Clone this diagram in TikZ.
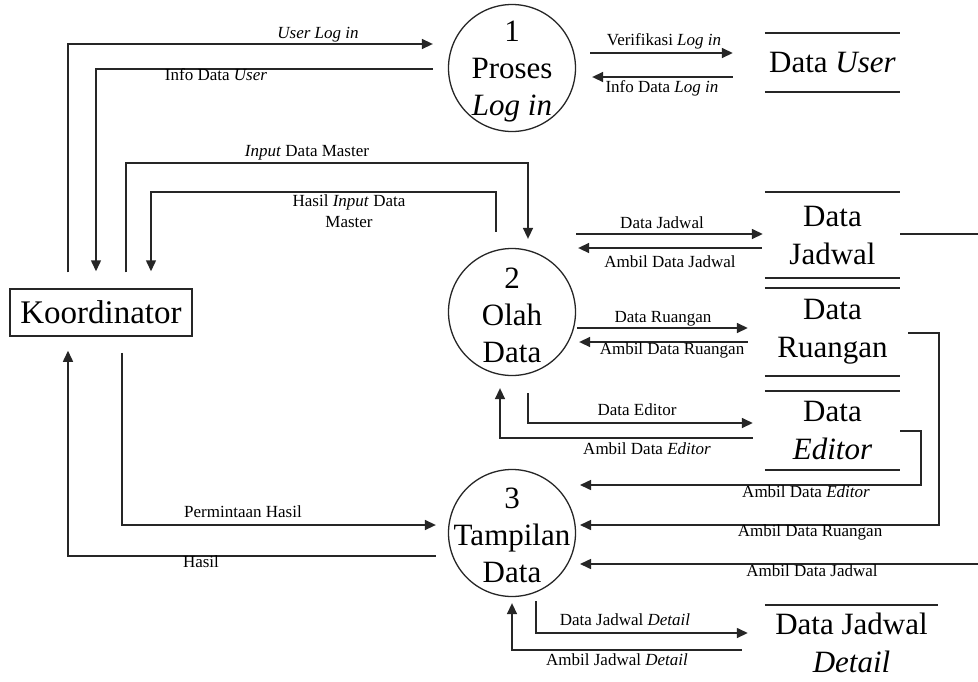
\documentclass[tikz,border=0pt]{standalone}
\usepackage{fontspec}
\setmainfont{Liberation Serif}
\usetikzlibrary{arrows.meta}
\begin{document}
\begin{tikzpicture}[x=1pt,y=-1pt,
  flow/.style={draw=black!85, line width=1.5pt, -{Triangle[length=11pt,width=10pt]}},
  plain/.style={draw=black!85, line width=1.5pt},
  lbl/.style={font=\fontsize{17}{21}\selectfont, inner sep=0pt, text height=0.72em, text depth=0.22em},
  lbltwo/.style={font=\fontsize{17}{21}\selectfont, inner sep=0pt, align=center},
  proc/.style={circle, draw=black!85, line width=1.3pt, minimum size=127pt, inner sep=0pt},
  proctext/.style={font=\fontsize{31}{37}\selectfont, align=center, inner sep=0pt},
  store/.style={minimum width=135pt, inner sep=0pt, font=\fontsize{31}{38}\selectfont, align=center},
  storeline/.style={draw=black!85, line width=1.5pt},
  entity/.style={draw=black!85, line width=1.5pt, minimum width=182pt, minimum height=47pt,
    inner sep=0pt, font=\fontsize{33}{40}\selectfont}
]
\fill[white] (0,0) rectangle (978,681);
\useasboundingbox (0,0) rectangle (978,681);

% external entity
\node[entity] (koord) at (101,312.5) {Koordinator};

% processes
\node[proc] (p1) at (512,68) {};
\node[proctext] (p1t) at (512,72) {1\\Proses\\\textit{Log in}};
\node[proc] (p2) at (512,312) {};
\node[proctext] (p2t) at (512,315) {2\\Olah\\Data};
\node[proc] (p3) at (512,533) {};
\node[proctext] (p3t) at (512,535) {3\\Tampilan\\Data};

% data stores
\node[store, minimum height=59pt] (du) at (832.5,62.5) {Data \textit{User}};
\node[store, minimum height=86pt] (dj) at (832.5,235) {Data\\Jadwal};
\node[store, minimum height=88pt] (dr) at (832.5,332) {Data\\Ruangan};
\node[store, minimum height=79pt] (de) at (832.5,430.5) {Data\\\textit{Editor}};
\node[store, minimum width=173pt, minimum height=76pt] (djd) at (851.5,643) {Data Jadwal\\\textit{Detail}};
\foreach \s in {du,dj,dr,de} {
  \draw[storeline] (\s.north west) -- (\s.north east);
  \draw[storeline] (\s.south west) -- (\s.south east);
}
\draw[storeline] (djd.north west) -- (djd.north east);

% helper columns for the inflows of process 3 and the right rim
\coordinate (intake) at (580,0);
\coordinate (rim) at (978,0);

% Koordinator <-> Proses Log in
\draw[flow, shorten <=16pt, shorten >=15pt] (koord.north -| 68,0) |- (p1.west |- 0,44);
\draw[flow, shorten <=15pt, shorten >=17pt] (p1.west |- 0,69) -| (koord.north -| 96,0);
\node[lbl] at (318,36) {\textit{User Log in}};
\node[lbl] at (216,78) {Info Data \textit{User}};

% Koordinator <-> Olah Data
\draw[flow, shorten <=16pt, shorten >=9pt] (koord.north -| 126,0) |- (528,163) -- (p2.north -| 528,0);
\draw[flow, shorten <=16pt, shorten >=17pt] (p2.north -| 496,0) |- (151,192) -- (koord.north -| 151,0);
\node[lbl] at (307,154) {\textit{Input} Data Master};
\node[lbltwo] at (349,211) {Hasil \textit{Input} Data\\Master};

% Koordinator <-> Tampilan Data
\draw[flow, shorten <=16pt, shorten >=12pt] (koord.south -| 122,0) |- (p3.west |- 0,525);
\draw[flow, shorten <=12pt, shorten >=14pt] (p3.west |- 0,556) -| (koord.south -| 68,0);
\node[lbl] at (243,515) {Permintaan Hasil};
\node[lbl] at (201,565) {Hasil};

% Proses Log in <-> Data User
\draw[flow, shorten <=14pt, shorten >=32pt] (p1.east |- 0,53) -- (du.west |- 0,53);
\draw[flow, shorten <=32pt, shorten >=16pt] (du.west |- 0,77) -- (p1.east |- 0,77);
\node[lbl] at (664,43) {Verifikasi \textit{Log in}};
\node[lbl] at (662,90) {Info Data \textit{Log in}};

% Olah Data <-> Data Jadwal
\draw[flow, shorten >=2pt] (p2.east |- 0,234) -- (dj.west |- 0,234);
\draw[flow, shorten <=3pt, shorten >=2pt] (dj.west |- 0,248) -- (p2.east |- 0,248);
\node[lbl] at (662,226) {Data Jadwal};
\node[lbl] at (670,265) {Ambil Data Jadwal};

% Olah Data <-> Data Ruangan
\draw[flow, shorten <=1pt, shorten >=17pt] (p2.east |- 0,328) -- (dr.west |- 0,328);
\draw[flow, shorten <=17pt, shorten >=3pt] (dr.west |- 0,342) -- (p2.east |- 0,342);
\node[lbl] at (663,320) {Data Ruangan};
\node[lbl] at (672,352) {Ambil Data Ruangan};

% Olah Data <-> Data Editor
\draw[flow, shorten <=17pt, shorten >=12pt] (p2.south -| 528,0) |- (de.west |- 0,423);
\draw[flow, shorten <=12pt, shorten >=12pt] (de.west |- 0,438) -| (p2.south -| 500,0);
\node[lbl] at (637,413) {Data Editor};
\node[lbl] at (647,452) {Ambil Data \textit{Editor}};

% data stores -> Tampilan Data
\draw[flow] (de.east |- 0,431) -| (921,485) -- (intake |- 0,485);
\draw[flow, shorten <=8pt] (dr.east |- 0,333) -| (939,525) -- (intake |- 0,525);
\draw[plain] (dj.east |- 0,234) -- (rim |- 0,234);
\draw[flow] (rim |- 0,564) -- (intake |- 0,564);
\node[lbl] at (806,495) {Ambil Data \textit{Editor}};
\node[lbl] at (810,534) {Ambil Data Ruangan};
\node[lbl] at (812,574) {Ambil Data Jadwal};

% Tampilan Data <-> Data Jadwal Detail
\draw[flow, shorten <=4pt, shorten >=17pt] (p3.south -| 536,0) |- (djd.west |- 0,633);
\draw[flow, shorten <=23pt, shorten >=6pt] (djd.west |- 0,650) -| (p3.south);
\node[lbl] at (625,623) {Data Jadwal \textit{Detail}};
\node[lbl] at (617,663) {Ambil Jadwal \textit{Detail}};
\end{tikzpicture}
\end{document}
